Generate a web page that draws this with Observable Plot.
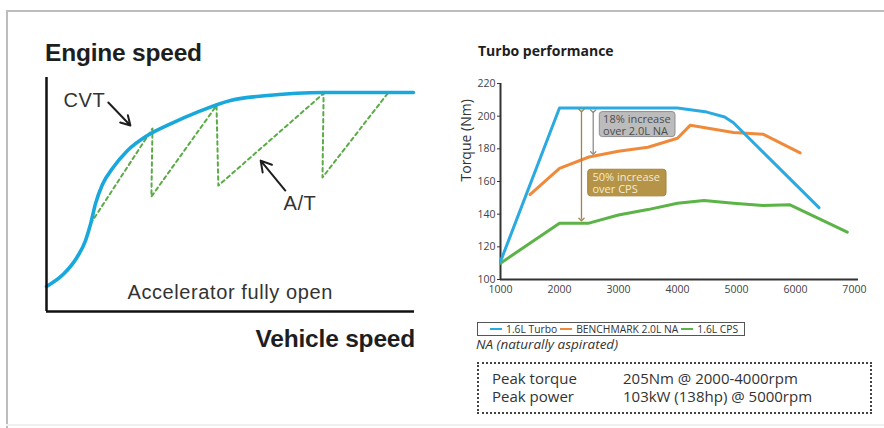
<!DOCTYPE html>
<html><head><meta charset="utf-8">
<script src="https://cdn.jsdelivr.net/npm/d3@7"></script>
<script src="https://cdn.jsdelivr.net/npm/@observablehq/plot@0.6"></script>
<style>
body{margin:0;background:#fff;}
#page{position:relative;width:884px;height:428px;overflow:hidden;font-family:"Liberation Sans",Arial,sans-serif;background:#fff;}
.abs{position:absolute;white-space:nowrap;}
.big{font-family:"Liberation Sans",Arial,sans-serif;font-weight:bold;font-size:24.5px;line-height:24px;color:#1e1e1e;letter-spacing:-0.2px;}
.os{font-family:"Open Sans",sans-serif;}
#legend{display:flex;align-items:center;border:1px solid #555;height:14px;font-size:10.3px;color:#333;padding:0 3px 0 12px;box-sizing:border-box;}
#legend .sw{display:inline-block;width:12px;height:2px;margin-right:4px;}
#legend .it{margin-right:3px;}
#peak{border:2px dotted #444;box-sizing:border-box;font-size:15px;color:#333;line-height:17.7px;padding:6px 0 0 13px;}
#peak td{padding:0;}
</style></head><body><div id="page"></div>
<script>
// ---------- Left schematic: engine speed vs vehicle speed (arbitrary units 0-100) ----------
const cvtSpeed  = [0, 4.7, 8.3, 10.6, 12.0, 13.3, 15.2, 18.0, 21.9, 27.4, 33.7, 41.0, 50.0, 60.1, 75.3, 99.7];
const cvtEngine = [10.7, 16.1, 23.2, 30.3, 37.5, 46.0, 54.3, 61.3, 68.6, 75.2, 80.2, 85.2, 90.2, 92.3, 93.6, 93.6];
const atSpeed   = [12.0, 28.8, 28.5, 46.2, 46.7, 75.3, 75.0, 92.7];
const atEngine  = [37.6, 78.2, 49.1, 88.0, 53.8, 93.2, 57.3, 93.2];
const leftLabels = ["CVT", "A/T", "Accelerator fully open"];
const leftLabelX = [4.6, 64.4, 22.0];
const leftLabelY = [90.2, 46.2, 8.1];
const pointerX1 = [16.8, 64.9];
const pointerY1 = [89.3, 51.7];
const pointerX2 = [22.8, 58.2];
const pointerY2 = [79.5, 64.5];

// ---------- Right chart: Turbo performance ----------
const seriesNames  = ["1.6L Turbo", "BENCHMARK 2.0L NA", "1.6L CPS"];
const seriesColors = ["#2aaae0", "#ef8a3a", "#5cb347"];
const rpmTurbo    = [1000, 2000, 4000, 4500, 4800, 4950, 6400];
const torqueTurbo = [111, 205, 205, 202.5, 199.5, 196, 144];
const rpmNA       = [1500, 2000, 2500, 3000, 3500, 4000, 4220, 4950, 5450, 6080];
const torqueNA    = [152, 168, 175, 178.5, 181, 186.5, 194.5, 190, 189, 177.5];
const rpmCPS      = [1000, 2000, 2500, 3000, 3500, 4000, 4450, 4950, 5450, 5900, 6880];
const torqueCPS   = [110, 134.5, 134.5, 139.5, 142.8, 146.7, 148.3, 146.7, 145.3, 145.8, 129];
const xTicks = [1000, 2000, 3000, 4000, 5000, 6000, 7000];
const yTicks = [100, 120, 140, 160, 180, 200, 220];
// annotations
const bracketX  = [2572, 2373];
const bracketY1 = [203, 203.4];
const bracketY2 = [177.4, 136.7];
const bracketColor = ["#8e8e8e", "#a08549"];
const noteText  = ["18% increase\nover 2.0L NA", "50% increase\nover CPS"];
const noteX1 = [2684, 2487];
const noteX2 = [3967, 3815];
const noteY1 = [202.5, 167.2];
const noteY2 = [187.2, 150.9];
const noteFill = ["#bcbcbc", "#b59448"];
const noteStroke = ["#8f8f8f", "#a5843c"];
const noteTextX = [2740, 2560];
const noteTextY = [194.4, 159.2];
const noteTextColor = ["#4d4d4d", "#f4ead0"];
const peakRows = [["Peak torque", "205Nm @ 2000-4000rpm"], ["Peak power", "103kW (138hp) @ 5000rpm"]];

const page = document.getElementById("page");
function place(el, left, top) { el.classList.add("abs"); el.style.left = left + "px"; el.style.top = top + "px"; page.appendChild(el); return el; }
function div(html, cls) { const d = document.createElement("div"); if (cls) d.className = cls; d.innerHTML = html; return d; }

// frame lines (decorative page border)
const fr = [[6,10,878,1.5,"#bdbdbd"],[6,10,1.5,418,"#bdbdbd"],[6,424,878,2,"#f0f0f0"]];
fr.forEach(([l,t,w,h,c]) => { const d = div(""); d.style.width = w+"px"; d.style.height = h+"px"; d.style.background = c; place(d, l, t); });

// ---- left schematic ----
const cvt = cvtSpeed.map((x, i) => ({x, y: cvtEngine[i]}));
const at = atSpeed.map((x, i) => ({x, y: atEngine[i]}));
const labs = leftLabels.map((t, i) => ({t, x: leftLabelX[i], y: leftLabelY[i]}));
const ptrs = pointerX1.map((x, i) => ({x1: x, y1: pointerY1[i], x2: pointerX2[i], y2: pointerY2[i]}));
const left = Plot.plot({
  width: 440, height: 260,
  marginLeft: 46, marginRight: 26, marginTop: 7, marginBottom: 19,
  x: {domain: [0, 100], axis: null},
  y: {domain: [0, 100], axis: null},
  style: {fontFamily: "Liberation Sans, Arial, sans-serif", background: "transparent"},
  marks: [
    Plot.line(at, {x: "x", y: "y", stroke: "#5aab45", strokeWidth: 2, strokeDasharray: "3.5,3.5"}),
    Plot.line(cvt, {x: "x", y: "y", stroke: "#18a8dc", strokeWidth: 3.6, curve: "monotone-x"}),
    Plot.ruleX([0], {stroke: "#111", strokeWidth: 2.5}),
    Plot.ruleY([0], {stroke: "#111", strokeWidth: 2.5}),
    Plot.arrow(ptrs, {x1: "x1", y1: "y1", x2: "x2", y2: "y2", stroke: "#1e1e1e", strokeWidth: 2, headLength: 9}),
    Plot.text(labs, {x: "x", y: "y", text: "t", textAnchor: "start", fontSize: 20, fill: "#333"})
  ]
});
left.querySelectorAll("text").forEach(t => t.style.letterSpacing = "0.6px");
place(left, 0, 70);
place(div("Engine speed", "big"), 45, 41);
const vs = place(div("Vehicle speed", "big"), 0, 327);
vs.style.left = ""; vs.style.right = (884 - 415) + "px";

// ---- right chart ----
const lineData = (xs, ys) => xs.map((x, i) => ({x, y: ys[i]}));
const brackets = bracketX.map((x, i) => ({x, y1: bracketY1[i], y2: bracketY2[i], c: bracketColor[i]}));
const notes = noteText.map((t, i) => ({t, x1: noteX1[i], x2: noteX2[i], y1: noteY1[i], y2: noteY2[i], f: noteFill[i], s: noteStroke[i], tx: noteTextX[i], ty: noteTextY[i], tc: noteTextColor[i]}));
const right = Plot.plot({
  width: 440, height: 250,
  marginLeft: 60, marginRight: 22, marginTop: 23, marginBottom: 31,
  x: {domain: [1000, 7070]},
  y: {domain: [100, 220]},
  style: {fontFamily: "Open Sans, sans-serif", fontSize: "10.5px", color: "#444", background: "transparent"},
  marks: [
    Plot.axisX({ticks: xTicks, tickSize: 0, tickPadding: 6, tickFormat: d => String(d), label: null, fill: "#444"}),
    Plot.axisY({ticks: yTicks, tickSize: 3, tickPadding: 2, label: null, fill: "#444", stroke: "#333"}),
    Plot.ruleY([100], {x1: 1000, x2: 7070, stroke: "#333", strokeWidth: 2}),
    Plot.ruleX([1000], {y1: 100, y2: 220, stroke: "#333", strokeWidth: 2}),
    Plot.text(["Torque (Nm)"], {frameAnchor: "left", dx: -34, rotate: -90, fontSize: 14, fill: "#333"}),
    Plot.line(lineData(rpmCPS, torqueCPS), {x: "x", y: "y", stroke: seriesColors[2], strokeWidth: 3, strokeLinejoin: "round"}),
    Plot.line(lineData(rpmNA, torqueNA), {x: "x", y: "y", stroke: seriesColors[1], strokeWidth: 3, strokeLinejoin: "round"}),
    Plot.line(lineData(rpmTurbo, torqueTurbo), {x: "x", y: "y", stroke: seriesColors[0], strokeWidth: 3, strokeLinejoin: "round"}),
    Plot.link(brackets, {x1: "x", x2: "x", y1: "y1", y2: "y2", stroke: "c", strokeWidth: 1.3, markerStart: "arrow", markerEnd: "arrow"}),
    Plot.rect(notes, {x1: "x1", x2: "x2", y1: "y1", y2: "y2", fill: "f", stroke: "s", strokeWidth: 1, rx: 3}),
    Plot.text(notes, {x: "tx", y: "ty", text: "t", textAnchor: "start", fontSize: 11, lineHeight: 1.08, fill: "tc"})
  ]
});
place(right, 440, 60);
const title = place(div("Turbo performance", "os"), 478, 42);
title.style.fontWeight = "bold"; title.style.fontSize = "14px"; title.style.color = "#1e1e1e"; title.style.lineHeight = "17px";

// legend
const lg = div("", "os"); lg.id = "legend";
seriesNames.forEach((n, i) => {
  const sw = document.createElement("span"); sw.className = "sw"; sw.style.background = seriesColors[i];
  const tx = document.createElement("span"); tx.className = "it"; tx.textContent = n;
  lg.appendChild(sw); lg.appendChild(tx);
});
place(lg, 477, 322);

const na = place(div("NA (naturally aspirated)", "os"), 476, 336);
na.style.fontStyle = "italic"; na.style.fontSize = "13.5px"; na.style.color = "#333"; na.style.lineHeight = "17px";

const pk = div("", "os"); pk.id = "peak";
pk.style.width = "395px"; pk.style.height = "52px";
const tb = document.createElement("table"); tb.style.borderCollapse = "collapse";
peakRows.forEach(r => {
  const tr = document.createElement("tr");
  r.forEach((c, j) => { const td = document.createElement("td"); td.textContent = c; if (j === 0) td.style.width = "131px"; tr.appendChild(td); });
  tb.appendChild(tr);
});
tb.style.font = "inherit";
pk.appendChild(tb);
place(pk, 477, 362);
</script></body></html>
